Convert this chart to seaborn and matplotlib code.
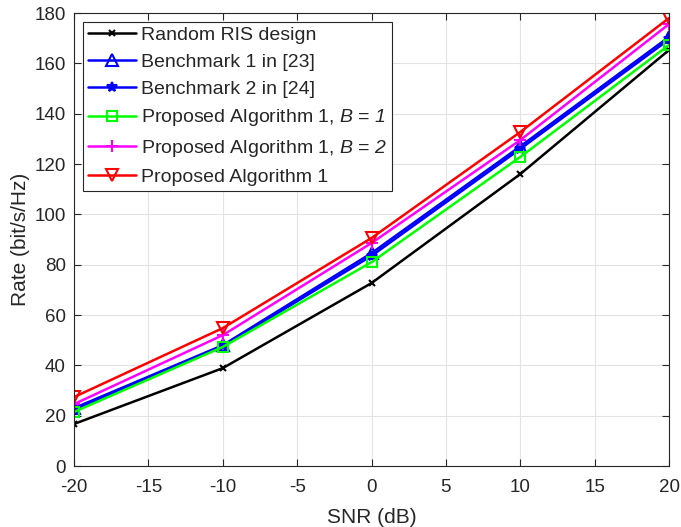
import numpy as np
import pandas as pd
import matplotlib
matplotlib.use("Agg")
import matplotlib.pyplot as plt
import seaborn as sns

snr = [-20, -10, 0, 10, 20]
random_ris = [16.7, 38.9, 72.7, 116.0, 165.3]
bench1 = [23.0, 48.0, 84.6, 127.0, 170.5]
bench2 = [22.5, 47.5, 83.5, 126.0, 169.5]
prop_b1 = [21.5, 47.3, 81.0, 122.8, 167.3]
prop_b2 = [24.6, 52.0, 88.6, 129.5, 175.6]
prop = [27.4, 54.8, 90.6, 132.7, 178.0]

labels = ["Random RIS design", "Benchmark 1 in [23]", "Benchmark 2 in [24]",
          "Proposed Algorithm 1, $\\mathsf{B}$ = $\\mathsf{1}$",
          "Proposed Algorithm 1, $\\mathsf{B}$ = $\\mathsf{2}$",
          "Proposed Algorithm 1"]
series = [random_ris, bench1, bench2, prop_b1, prop_b2, prop]
colors = ["black", "#0000ff", "#0000ff", "#00ff00", "#ff00ff", "#ff0000"]
markers = ["x", "^", "*", "s", "+", "v"]
msizes = [5, 8, 7, 7, 8, 8]

sns.set_theme(style="whitegrid")
plt.rcParams['font.family'] = ['Liberation Sans', 'DejaVu Sans']
plt.rcParams['mathtext.fontset'] = 'custom'
plt.rcParams['mathtext.it'] = 'Liberation Sans:italic'
plt.rcParams['mathtext.sf'] = 'Liberation Sans:italic'
plt.rcParams['mathtext.rm'] = 'Liberation Sans'
plt.rcParams['axes.unicode_minus'] = False

fig = plt.figure(figsize=(6.81, 5.27), dpi=100)
ax = fig.add_axes([0.1087, 0.1157, 0.8737, 0.8596])

for lab, vals, c, m, ms in zip(labels, series, colors, markers, msizes):
    df = pd.DataFrame({"SNR": snr, "Rate": vals})
    mfc = "none" if m in ("^", "s", "v") else c
    sns.lineplot(data=df, x="SNR", y="Rate", ax=ax, color=c, marker=m,
                 markersize=ms, markerfacecolor=mfc, markeredgecolor=c,
                 markeredgewidth=1.5, linewidth=1.8, label=lab)

ax.set_xlim(-20, 20)
ax.set_ylim(0, 180)
ax.set_xticks(np.arange(-20, 21, 5))
ax.set_yticks(np.arange(0, 181, 20))
ax.set_xlabel("SNR (dB)", fontsize=15, color="#262626", labelpad=9)
ax.set_ylabel("Rate (bit/s/Hz)", fontsize=15, color="#262626", labelpad=3)
ax.tick_params(axis="both", direction="in", labelsize=13.5, length=5, width=0.8,
               colors="#262626", top=True, right=True, bottom=True, left=True)
ax.tick_params(axis="x", pad=9)
ax.tick_params(axis="y", pad=6)
ax.grid(True, color="#e3e3e3", linewidth=0.8)
ax.set_facecolor("white")
for s in ax.spines.values():
    s.set_color("#262626")
    s.set_linewidth(0.8)

leg = ax.legend(loc="upper left", fontsize=14, frameon=True, fancybox=False,
                edgecolor="#262626", framealpha=1, borderpad=0.25,
                labelspacing=0.48, handlelength=2.5, handletextpad=0.25,
                borderaxespad=0.45)
leg.get_frame().set_linewidth(0.8)

fig.savefig("out.png", dpi=100)
